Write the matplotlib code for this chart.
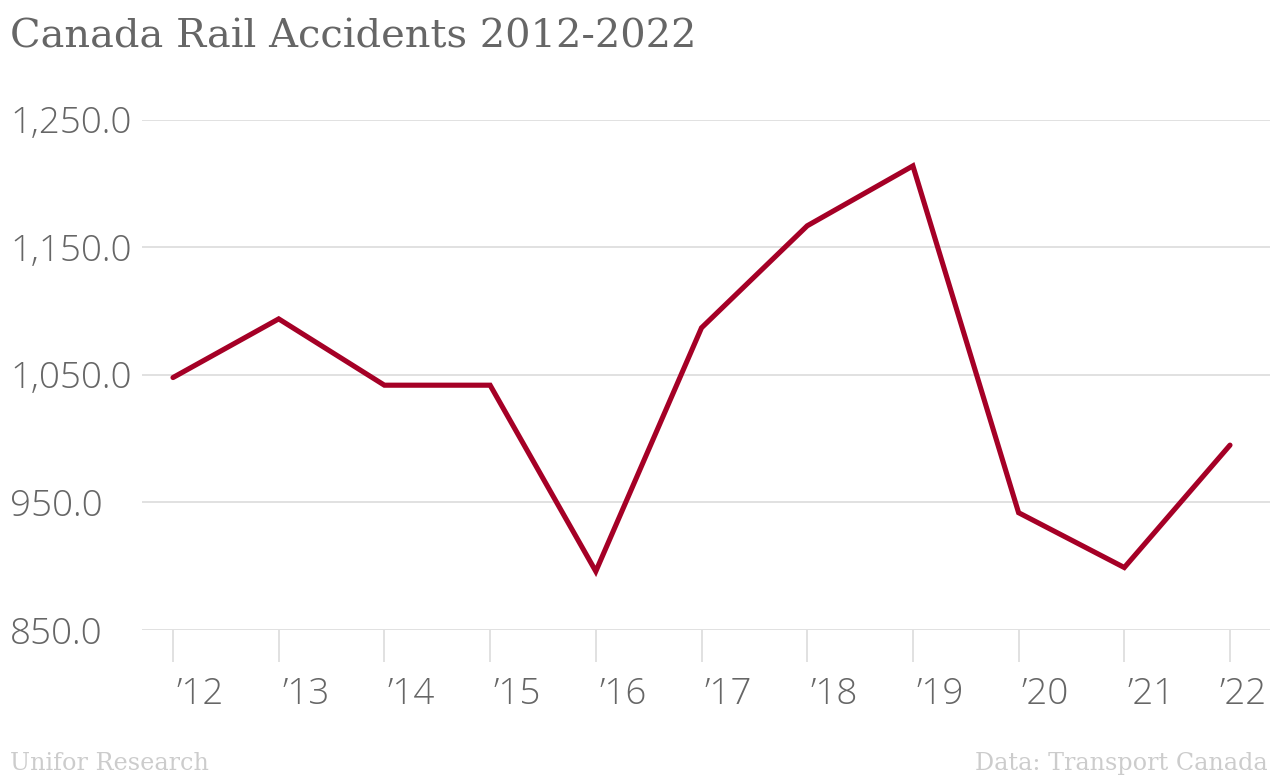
import matplotlib

matplotlib.use("Agg")
import matplotlib.pyplot as plt
import matplotlib.transforms as mtransforms

years = [2012, 2013, 2014, 2015, 2016, 2017, 2018, 2019, 2020, 2021, 2022]
accidents = [1048, 1094, 1042, 1042, 896, 1087, 1167, 1214, 942, 899, 995]
x_labels = ["\u201912", "\u201913", "\u201914", "\u201915", "\u201916", "\u201917",
            "\u201918", "\u201919", "\u201920", "\u201921", "\u201922"]
y_ticks = [850, 950, 1050, 1150, 1250]

LINE = "#a50026"
GRID = "#d9d9d9"
TEXT = "#666666"
FOOT = "#cccccc"

W, H = 1280, 776
fig = plt.figure(figsize=(W / 100, H / 100), dpi=100)
ax = fig.add_axes([142 / W, (H - 630) / H, (1270 - 142) / W, (630 - 120) / H])

ax.plot(years, accidents, color=LINE, linewidth=3.7, clip_on=False,
        solid_joinstyle="miter", solid_capstyle="round", zorder=3)

ax.set_xlim(2012 - 31 / 105.7, 2022 + 40 / 105.7)
ax.set_ylim(850, 1250)
for v in y_ticks:
    ax.axhline(v, color=GRID, linewidth=1.1, zorder=1)

for s in ax.spines.values():
    s.set_visible(False)
ax.set_yticks([])
ax.set_xticks(years)
ax.set_xticklabels([])
ax.tick_params(axis="x", length=23, width=1.1, color=GRID, direction="out")

tick_font = dict(family=["Open Sans", "DejaVu Sans"], fontweight="light",
                 fontsize=26.5, color=TEXT)

# y labels sit at the left edge of the figure, shifted a little down
ytrans = (mtransforms.blended_transform_factory(fig.transFigure, ax.transData)
          + mtransforms.ScaledTranslation(0, -4 / 100, fig.dpi_scale_trans))
for v in y_ticks:
    ax.text(10 / W, v, f"{v:,.1f}", transform=ytrans, ha="left", va="center",
            **tick_font)

xtrans = mtransforms.blended_transform_factory(ax.transData, fig.transFigure)
for i, (yr, lab) in enumerate(zip(years, x_labels)):
    off = 27 if i < len(years) - 1 else 13
    t = xtrans + mtransforms.ScaledTranslation(off / 100, 0, fig.dpi_scale_trans)
    ax.text(yr, (H - 694) / H, lab, transform=t, ha="center", va="center",
            clip_on=False, **tick_font)

serif = dict(family=["DejaVu Serif"])
fig.text(10 / W, (H - 47) / H, "Canada Rail Accidents 2012-2022", ha="left",
         va="baseline", fontsize=28.85, color=TEXT, **serif)
fig.text(10 / W, (H - 770) / H, "Unifor Research", ha="left", va="baseline",
         fontsize=17.2, color=FOOT, **serif)
fig.text(1268 / W, (H - 770) / H, "Data: Transport Canada", ha="right",
         va="baseline", fontsize=17.2, color=FOOT, **serif)

fig.savefig("out.png", dpi=100)
